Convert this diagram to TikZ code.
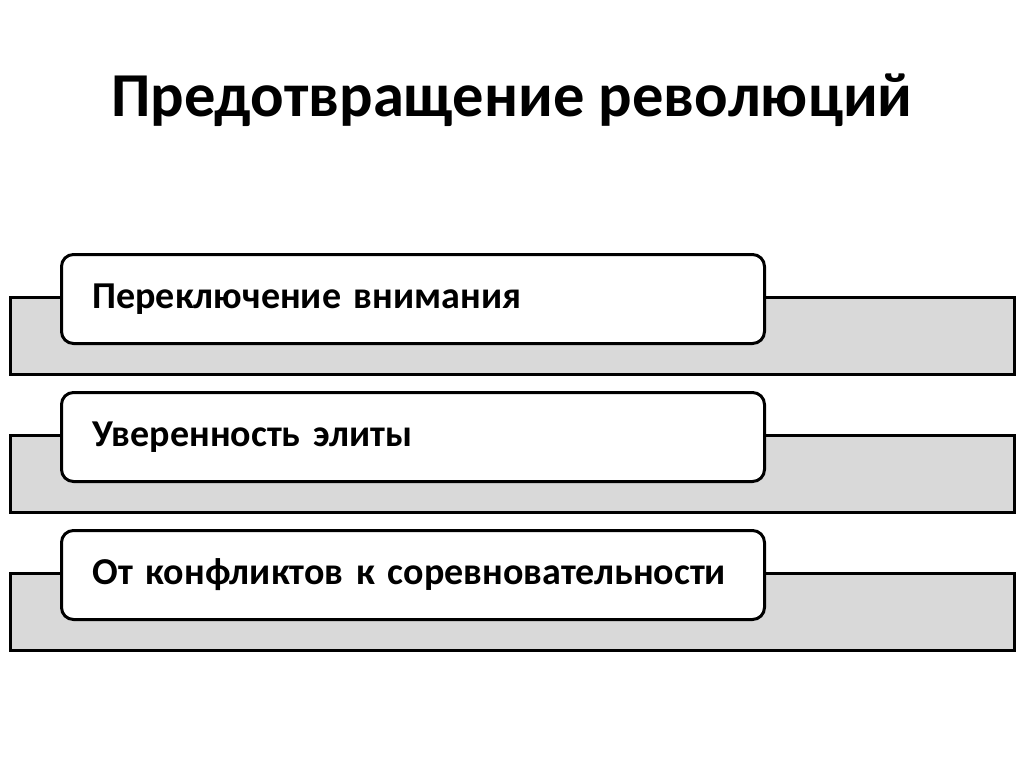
\documentclass[tikz,border=0pt]{standalone}
\usepackage{fontspec}
\setmainfont{Carlito}
\usepackage{xcolor}
\definecolor{bargray}{HTML}{D9D9D9}

\begin{document}
\begin{tikzpicture}[x=1pt, y=-1pt,
  every node/.style={font=\bfseries},
  bar/.style={draw, line width=3pt, fill=bargray},
  item/.style={rectangle, rounded corners=12pt, draw, line width=3pt,
               fill=white, minimum width=703pt, minimum height=89pt,
               anchor=north west, text width=641pt, align=left,
               inner xsep=31pt, font=\fontsize{38}{44}\selectfont\bfseries}]
\useasboundingbox (0,0) rectangle (1024,767);

\node (title) at (512,100) {\fontsize{62.5}{72}\selectfont Предотвращение революций};

% gray bars behind the boxes
\foreach \y in {297,435,573}
  \draw[bar] (10,\y) rectangle (1014,\y+77);

\node[item] (attention) at (60,253) {Переключение внимания};
\node[item] (elite) at (60,391) {Уверенность элиты};
\node[item] (rivalry) at (60,529) {От конфликтов к соревновательности};
\end{tikzpicture}
\end{document}
